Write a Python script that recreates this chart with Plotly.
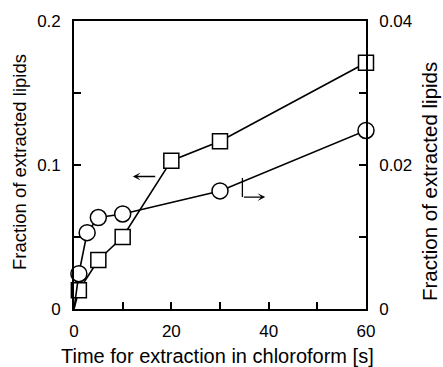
import plotly.graph_objects as go

# Squares (left axis)
sq_x = [1, 5, 10, 20, 30, 60]
sq_y = [0.013, 0.034, 0.050, 0.103, 0.1165, 0.171]
# Circles (right axis)
ci_x = [1, 2.7, 5, 10, 30, 60]
ci_y = [0.0049, 0.0106, 0.0127, 0.0132, 0.0164, 0.0248]

x_ticks = [0, 20, 40, 60]
yl_ticks = [0, 0.1, 0.2]
yr_ticks = [0, 0.02, 0.04]

# indicator arrows
left_arrow_from = (17.0, 0.092)
left_arrow_to = (12.1, 0.092)
right_arrow_pts = [(34.6, 0.0182), (34.6, 0.01555), (39.3, 0.01555)]

FONT = "Liberation Sans, Arial, sans-serif"
LW = 1.6

fig = go.Figure()
fig.add_trace(go.Scatter(x=[0] + sq_x, y=[0] + sq_y, mode="lines",
                         line=dict(color="black", width=LW), showlegend=False))
fig.add_trace(go.Scatter(x=[0] + ci_x, y=[0] + ci_y, mode="lines", yaxis="y2",
                         line=dict(color="black", width=LW), showlegend=False))
fig.add_trace(go.Scatter(x=ci_x, y=ci_y, mode="markers", yaxis="y2", cliponaxis=False,
                         marker=dict(symbol="circle", size=16, color="white",
                                     line=dict(color="black", width=1.5)),
                         showlegend=False))
fig.add_trace(go.Scatter(x=sq_x, y=sq_y, mode="markers", cliponaxis=False,
                         marker=dict(symbol="square", size=15, color="white",
                                     line=dict(color="black", width=1.5)),
                         showlegend=False))

axis_common = dict(showgrid=False, zeroline=False, showline=True, linecolor="black",
                   linewidth=1.6, ticks="inside", ticklen=7, tickwidth=1.5,
                   tickcolor="black", tickfont=dict(family=FONT, size=17, color="black"))

fig.update_layout(
    width=443, height=367,
    margin=dict(l=74, r=77, t=21, b=58),
    paper_bgcolor="white", plot_bgcolor="white",
    xaxis=dict(range=[0, 60], tickvals=x_ticks, mirror=True, ticklabelstandoff=6,
               minor=dict(ticks="inside", dtick=10, ticklen=7, tickwidth=1.5, tickcolor="black"),
               **axis_common),
    yaxis=dict(range=[0, 0.2], tickvals=yl_ticks, ticktext=["0", "0.1", "0.2"],
               ticklabelstandoff=8,
               minor=dict(ticks="inside", dtick=0.05, ticklen=7, tickwidth=1.5, tickcolor="black"),
               **axis_common),
    yaxis2=dict(range=[0, 0.04], tickvals=yr_ticks, ticktext=["0", "0.02", "0.04"],
                overlaying="y", side="right", ticklabelstandoff=8,
                minor=dict(ticks="inside", dtick=0.01, ticklen=7, tickwidth=1.5, tickcolor="black"),
                **axis_common),
    showlegend=False,
)

fig.add_annotation(x=0.5, y=0, xref="paper", yref="paper", yshift=-47, xshift=-3,
                   text="Time for extraction in chloroform [s]", showarrow=False,
                   font=dict(family=FONT, size=20, color="black"), yanchor="middle")
fig.add_annotation(x=0, y=0.5, xref="paper", yref="paper", xshift=-55, yshift=3,
                   text="Fraction of extracted lipids", showarrow=False, textangle=-90,
                   font=dict(family=FONT, size=18.5, color="black"), xanchor="center")
fig.add_annotation(x=1, y=0.5, xref="paper", yref="paper", xshift=63, yshift=-17,
                   text="Fraction of extracted lipids", showarrow=False, textangle=-90,
                   font=dict(family=FONT, size=20.5, color="black"), xanchor="center")

fig.add_annotation(x=left_arrow_to[0], y=left_arrow_to[1], ax=left_arrow_from[0],
                   ay=left_arrow_from[1], axref="x", ayref="y", xref="x", yref="y",
                   text="", showarrow=True, arrowhead=3, arrowsize=1, arrowwidth=1.3,
                   arrowcolor="black")
fig.add_shape(type="line", xref="x", yref="y2",
              x0=right_arrow_pts[0][0], y0=right_arrow_pts[0][1],
              x1=right_arrow_pts[1][0], y1=right_arrow_pts[1][1],
              line=dict(color="black", width=1.3))
fig.add_annotation(x=right_arrow_pts[2][0], y=right_arrow_pts[2][1], ax=right_arrow_pts[1][0],
                   ay=right_arrow_pts[1][1], axref="x", ayref="y2", xref="x", yref="y2",
                   text="", showarrow=True, arrowhead=3, arrowsize=1, arrowwidth=1.3,
                   arrowcolor="black")

fig.write_html("out.html")
